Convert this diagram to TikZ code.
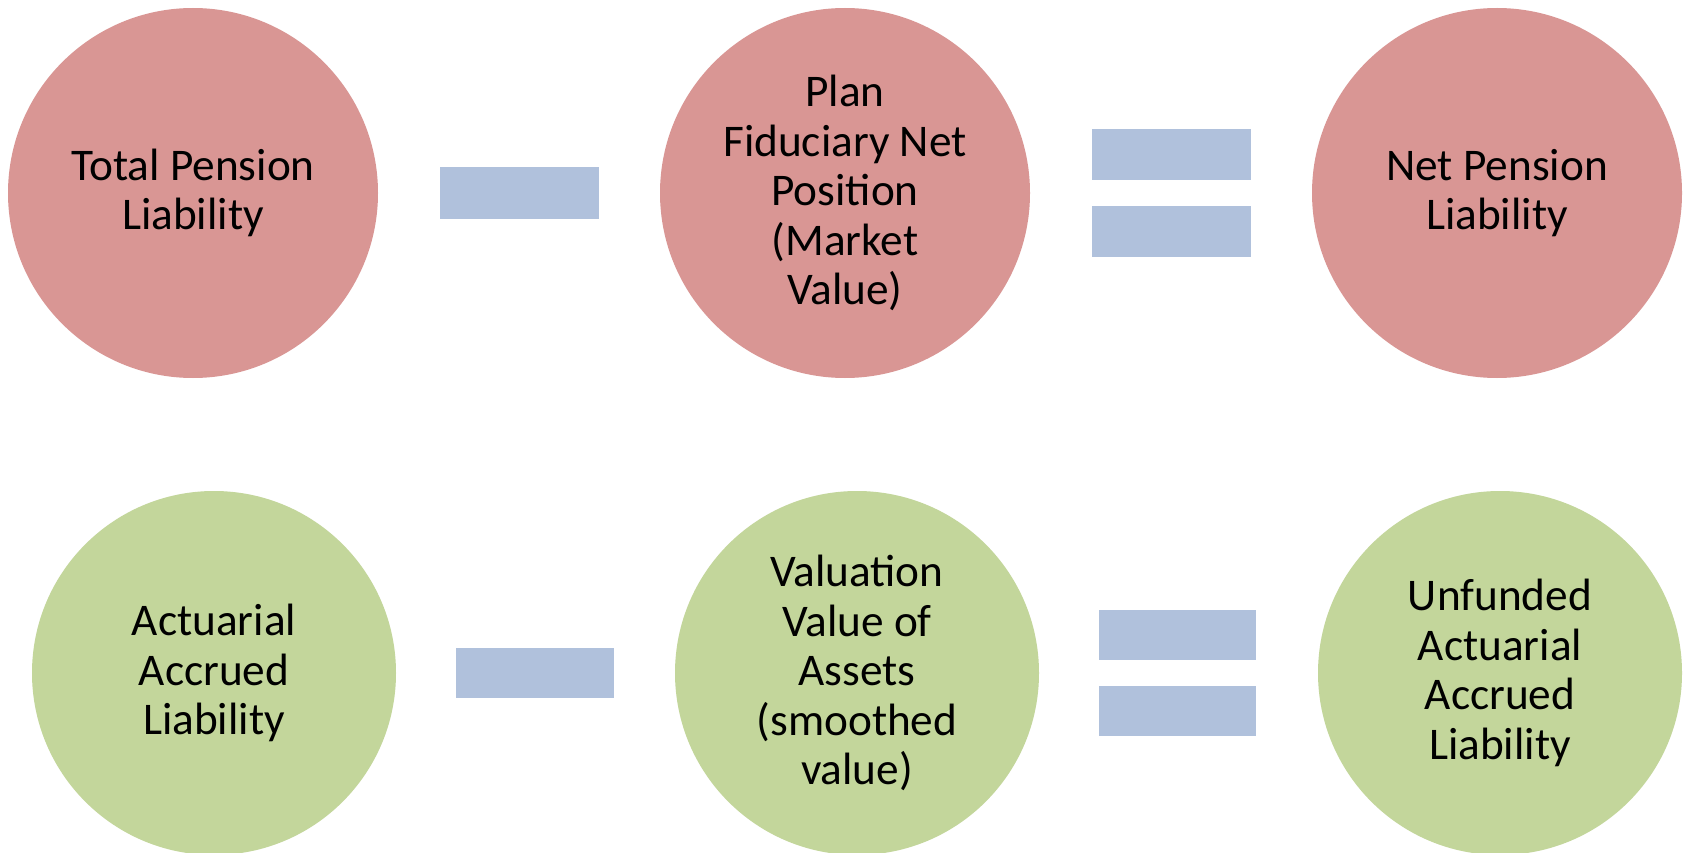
\documentclass[tikz,border=0pt]{standalone}
\usepackage{fontspec}
\setmainfont{Carlito}
\definecolor{pinkc}{HTML}{D99694}
\definecolor{greenc}{HTML}{C3D69B}
\definecolor{barc}{HTML}{B0C1DC}
\begin{document}
\begin{tikzpicture}[x=1pt,y=-1pt,
  bubble/.style={circle, inner sep=0pt, align=center, text=black,
    font=\fontsize{45.3}{49.5}\selectfont},
  topbubble/.style={bubble, minimum size=370pt, fill=pinkc},
  botbubble/.style={bubble, minimum size=364pt, fill=greenc},
  bar/.style={fill=barc, draw=none, inner sep=0pt, minimum width=159pt, minimum height=51pt}]
\useasboundingbox (0,0) rectangle (1688,853);
\fill[white] (0,0) rectangle (1688,853);
% top row
\node[topbubble] (tpl) at (193,193) {Total Pension\\Liability};
\node[topbubble] (pfnp) at (845,193) {Plan\\Fiduciary Net\\Position\\(Market\\Value)};
\node[topbubble] (npl) at (1497,193) {Net Pension\\Liability};
\node[bar] (minusA) at (519,193) {};
\node[bar] (eqAtop) at (1171.5,154.5) {};
\node[bar] (eqAbot) at (1171.5,231) {};
% bottom row
\node[botbubble] (aal) at (214,673) {Actuarial\\Accrued\\Liability};
\node[botbubble] (vva) at (857,673) {Valuation\\Value of\\Assets\\(smoothed\\value)};
\node[botbubble] (uaal) at (1500,673) {Unfunded\\Actuarial\\Accrued\\Liability};
\node[bar, minimum width=158pt, minimum height=50pt] (minusB) at (535,673) {};
\node[bar, minimum width=157pt, minimum height=50pt] (eqBtop) at (1177.5,635) {};
\node[bar, minimum width=157pt, minimum height=50pt] (eqBbot) at (1177.5,710.5) {};
\end{tikzpicture}
\end{document}
